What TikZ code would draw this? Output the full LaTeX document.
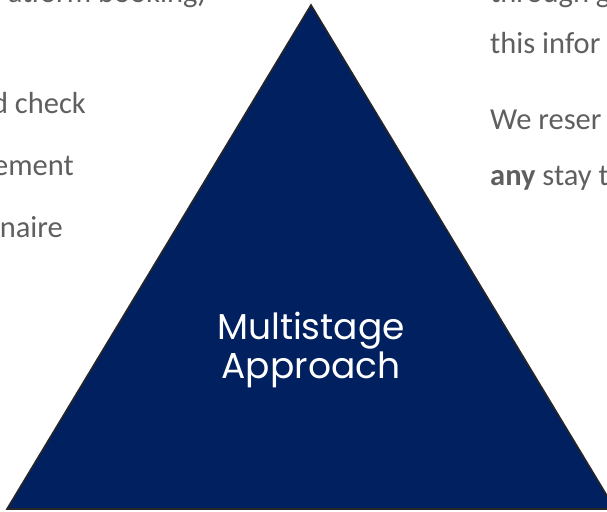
\documentclass[tikz,border=0pt]{standalone}
\usepackage{fontspec}
\setmainfont{Carlito}
\newfontfamily\popfont{Poppins}
\definecolor{navy}{RGB}{0,32,96}
\definecolor{txtgray}{RGB}{95,95,95}
\begin{document}
\begin{tikzpicture}[x=1pt,y=-1pt,
  bodytext/.style={inner sep=0pt,font=\fontsize{30.5}{30.5}\selectfont,text=txtgray},
  lefttext/.style={bodytext,anchor=base east},
  righttext/.style={bodytext,anchor=base west},
  titletext/.style={inner sep=0pt,anchor=base,font=\popfont\fontsize{36}{36}\selectfont,text=white}]
\useasboundingbox (0,0) rectangle (607,511);
\clip (0,0) rectangle (607,511);
% triangle
\coordinate (apex) at (311,5);
\coordinate (bl) at (7,509);
\coordinate (br) at (615,509);
\filldraw[fill=navy,draw=black!85,line width=1.6pt,line join=miter] (apex) -- (bl) -- (br) -- cycle;
\node[titletext] (title1) at (311,339) {Multistage};
\node[titletext] (title2) at (311,378) {Approach};
% left texts
\node[lefttext] (l0) at (207,2.5) {atform booking)};
\node[lefttext] (l1) at (86,113) {d check};
\node[lefttext] (l2) at (74,175) {ement};
\node[lefttext] (l3) at (63,237) {naire};
% right texts
\node[righttext] (r0) at (490,3) {through gu};
\node[righttext] (r1) at (490,53) {this infor};
\node[righttext] (r2) at (490,129) {We reser};
\node[righttext] (r3) at (490,185) {\textbf{any} stay t};
\end{tikzpicture}
\end{document}
